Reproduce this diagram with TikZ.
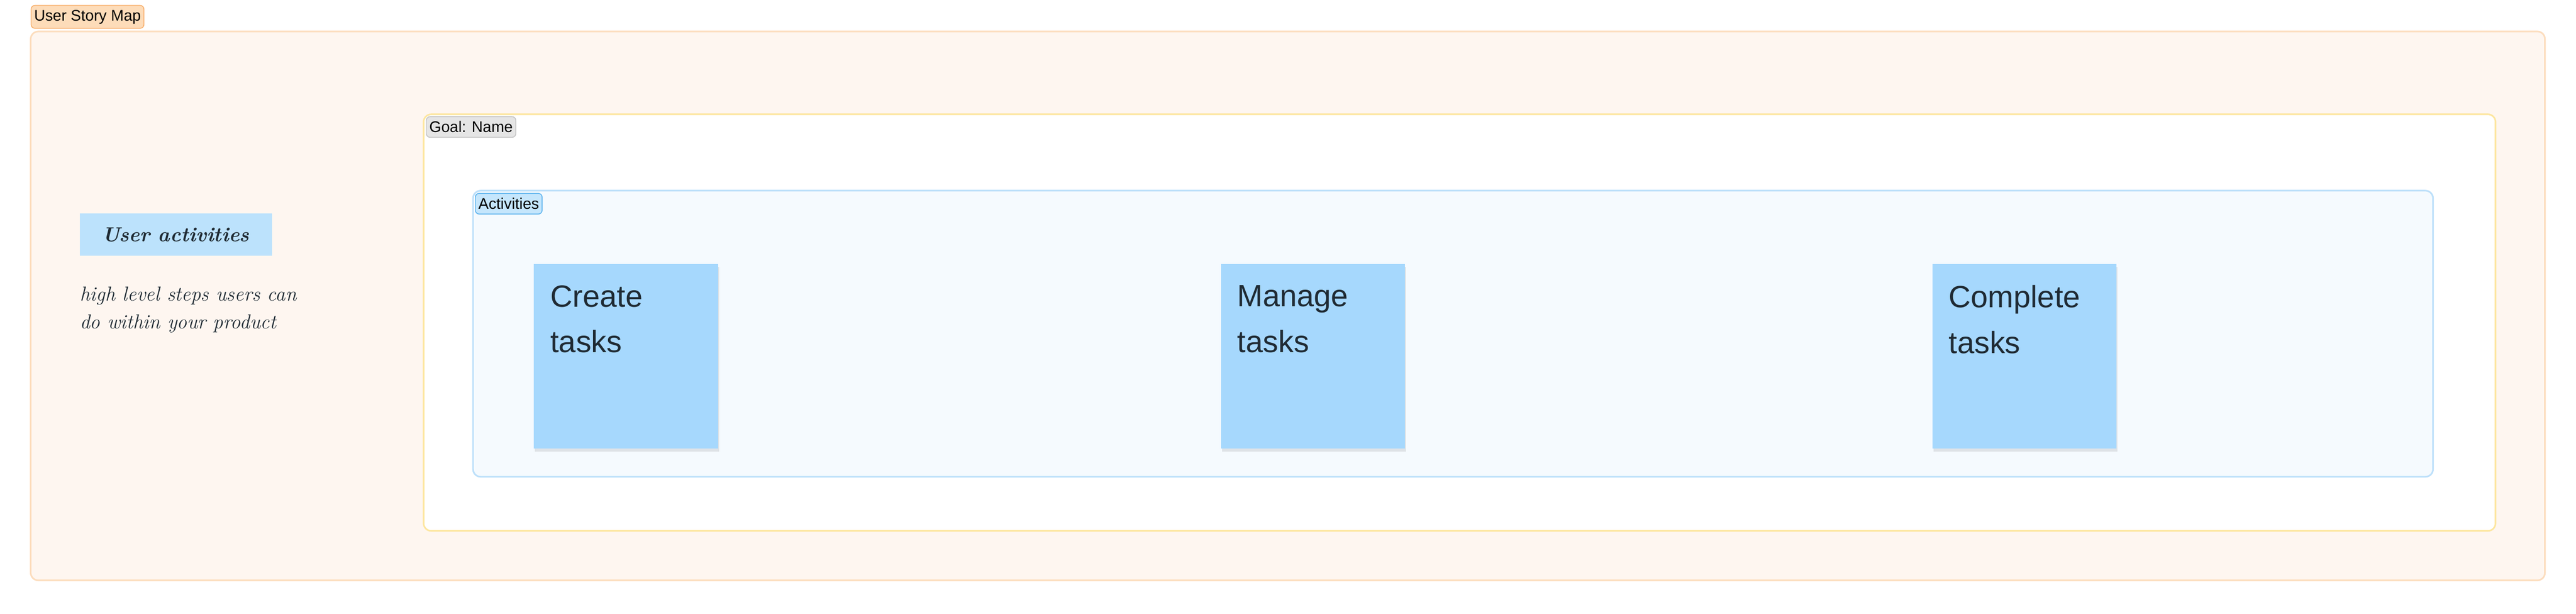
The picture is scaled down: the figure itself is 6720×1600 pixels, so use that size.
\documentclass[tikz,border=0pt]{standalone}
\usepackage{fontspec}
\setsansfont{Liberation Sans}
\usetikzlibrary{positioning,shadows}

\definecolor{mapfill}{HTML}{FEF6F0}
\definecolor{mapline}{HTML}{FCDDBE}
\definecolor{maptag}{HTML}{FDDCB9}
\definecolor{maptagline}{HTML}{F7AE6A}
\definecolor{goalline}{HTML}{FDE6A0}
\definecolor{goaltag}{HTML}{E5E5E5}
\definecolor{goaltagline}{HTML}{C4C4C4}
\definecolor{actfill}{HTML}{F5FAFE}
\definecolor{actline}{HTML}{BDE0FA}
\definecolor{acttag}{HTML}{C5E6FC}
\definecolor{acttagline}{HTML}{5AB2EE}
\definecolor{sticky}{HTML}{A6D8FD}
\definecolor{noteblue}{HTML}{BCE2FC}
\definecolor{inkdark}{HTML}{1F2A33}

\begin{document}
\begin{tikzpicture}[x=0.01cm, y=-0.01cm,
    tag/.style = {draw, rounded corners=0.1cm, line width=0.6pt, anchor=north west,
                  font=\sffamily\fontsize{11.4}{13}\selectfont, inner xsep=0.08cm,
                  minimum height=0.54cm},
    frame/.style = {rounded corners=0.2cm, line width=1.2pt},
    note/.style = {fill=sticky, minimum width=4.8cm, minimum height=4.8cm, anchor=north west,
                   drop shadow={opacity=0.18, shadow xshift=0.03cm, shadow yshift=-0.08cm}},
    notetext/.style = {anchor=north west, align=left, inner sep=0pt, text=inkdark,
                       font=\sffamily\fontsize{22.8}{34}\selectfont}]
    \useasboundingbox (0,0) rectangle (6720,1600);

    % frames
    \draw[frame, fill=mapfill, draw=mapline] (80,82) rectangle (6639,1513);
    \node[tag, fill=maptag, draw=maptagline] (maptag) at (80,13) {User Story Map};
    \draw[frame, fill=white, draw=goalline] (1105,298) rectangle (6510,1384);
    \node[tag, fill=goaltag, draw=goaltagline] (goaltag) at (1111,303) {Goal: Name};
    \draw[frame, fill=actfill, draw=actline] (1234,497) rectangle (6347,1243);
    \node[tag, fill=acttag, draw=acttagline] (acttag) at (1239,503) {Activities};

    % left hint
    \node[fill=noteblue, minimum width=5cm, minimum height=1.1cm, anchor=north west,
          font=\itshape\bfseries\fontsize{15}{18}\selectfont, text=inkdark] (hint) at (208,556) {User activities};
    \node[anchor=north west, align=left, inner sep=0pt, text=inkdark,
          font=\itshape\fontsize{15}{20.5}\selectfont, below=0.8cm of hint.south west, anchor=north west] (hinttext)
          {high level steps users can\\do within your product};

    % activities
    \node[note] (create) at (1392,688) {};
    \node[note] (manage) at (3184,688) {};
    \node[note] (complete) at (5040,688) {};
    \node[notetext] at ([xshift=0.43cm, yshift=-0.55cm]create.north west) {Create\\tasks};
    \node[notetext] at ([xshift=0.43cm, yshift=-0.55cm]manage.north west) {Manage\\tasks};
    \node[notetext] at ([xshift=0.43cm, yshift=-0.55cm]complete.north west) {Complete\\tasks};
\end{tikzpicture}
\end{document}
